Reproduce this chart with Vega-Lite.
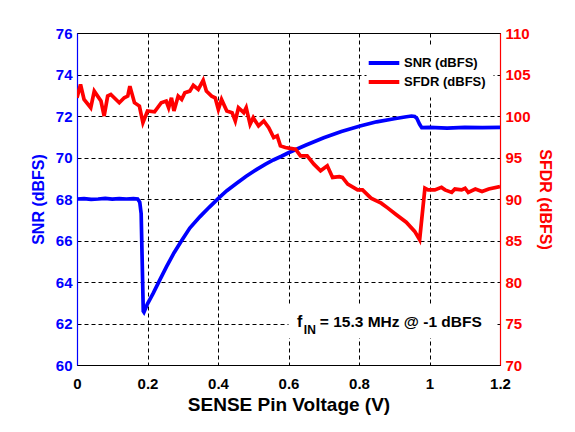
{
  "$schema": "https://vega.github.io/schema/vega-lite/v6.json",
  "width": 423,
  "height": 332,
  "autosize": "none",
  "padding": {"left": 77, "top": 33, "right": 75, "bottom": 67},
  "background": "white",
  "datasets": {
    "snr": [
      {"x": 0, "v": 68.0}, {"x": 0.02, "v": 68.02}, {"x": 0.04, "v": 67.98}, {"x": 0.06, "v": 68.0},
      {"x": 0.08, "v": 68.03}, {"x": 0.1, "v": 67.99}, {"x": 0.12, "v": 68.02}, {"x": 0.14, "v": 68.0},
      {"x": 0.16, "v": 68.02}, {"x": 0.172, "v": 68.0}, {"x": 0.178, "v": 67.85}, {"x": 0.182, "v": 67.3},
      {"x": 0.188, "v": 62.6}, {"x": 0.19, "v": 62.55}, {"x": 0.2, "v": 62.95}, {"x": 0.216, "v": 63.45},
      {"x": 0.235, "v": 64.1}, {"x": 0.254, "v": 64.74}, {"x": 0.275, "v": 65.4}, {"x": 0.297, "v": 66.0},
      {"x": 0.32, "v": 66.6}, {"x": 0.349, "v": 67.15}, {"x": 0.375, "v": 67.6}, {"x": 0.401, "v": 68.03},
      {"x": 0.425, "v": 68.4}, {"x": 0.453, "v": 68.76}, {"x": 0.48, "v": 69.1}, {"x": 0.51, "v": 69.43},
      {"x": 0.535, "v": 69.68}, {"x": 0.557, "v": 69.88}, {"x": 0.58, "v": 70.06}, {"x": 0.6, "v": 70.23},
      {"x": 0.65, "v": 70.6}, {"x": 0.7, "v": 70.95}, {"x": 0.75, "v": 71.25}, {"x": 0.803, "v": 71.52},
      {"x": 0.85, "v": 71.72}, {"x": 0.9, "v": 71.87}, {"x": 0.93, "v": 71.95}, {"x": 0.949, "v": 72.0},
      {"x": 0.958, "v": 71.98}, {"x": 0.964, "v": 71.89}, {"x": 0.972, "v": 71.6}, {"x": 0.978, "v": 71.44},
      {"x": 1.0, "v": 71.45}, {"x": 1.05, "v": 71.42}, {"x": 1.1, "v": 71.45}, {"x": 1.15, "v": 71.44},
      {"x": 1.2, "v": 71.45}
    ],
    "sfdr": [
      {"x": 0, "v": 102.2}, {"x": 0.01, "v": 103.8}, {"x": 0.02, "v": 102}, {"x": 0.039, "v": 101},
      {"x": 0.049, "v": 103}, {"x": 0.068, "v": 101.8}, {"x": 0.077, "v": 100}, {"x": 0.087, "v": 102.4},
      {"x": 0.096, "v": 102.6}, {"x": 0.12, "v": 101.6}, {"x": 0.134, "v": 102.2}, {"x": 0.144, "v": 102.4},
      {"x": 0.15, "v": 103.6}, {"x": 0.163, "v": 101.6}, {"x": 0.177, "v": 101.2}, {"x": 0.187, "v": 99.2},
      {"x": 0.2, "v": 100.6}, {"x": 0.22, "v": 100.5}, {"x": 0.239, "v": 101.6}, {"x": 0.253, "v": 101.8},
      {"x": 0.26, "v": 101}, {"x": 0.268, "v": 102.2}, {"x": 0.275, "v": 100.6}, {"x": 0.287, "v": 102.4},
      {"x": 0.297, "v": 102}, {"x": 0.306, "v": 102.8}, {"x": 0.32, "v": 103}, {"x": 0.33, "v": 103.7},
      {"x": 0.344, "v": 103.2}, {"x": 0.358, "v": 104.3}, {"x": 0.367, "v": 103}, {"x": 0.382, "v": 102.4},
      {"x": 0.392, "v": 102.2}, {"x": 0.401, "v": 100.8}, {"x": 0.41, "v": 102}, {"x": 0.425, "v": 100.6},
      {"x": 0.44, "v": 100.4}, {"x": 0.449, "v": 99.4}, {"x": 0.458, "v": 101}, {"x": 0.473, "v": 100.4},
      {"x": 0.48, "v": 101}, {"x": 0.491, "v": 99}, {"x": 0.5, "v": 99.8}, {"x": 0.515, "v": 98.8},
      {"x": 0.53, "v": 99.4}, {"x": 0.544, "v": 98.6}, {"x": 0.558, "v": 97.4}, {"x": 0.568, "v": 97.6},
      {"x": 0.577, "v": 96.4}, {"x": 0.591, "v": 96.2}, {"x": 0.605, "v": 96.1}, {"x": 0.62, "v": 96},
      {"x": 0.634, "v": 95.2}, {"x": 0.653, "v": 95.2}, {"x": 0.672, "v": 94.2}, {"x": 0.691, "v": 93.4},
      {"x": 0.71, "v": 94}, {"x": 0.725, "v": 92.6}, {"x": 0.744, "v": 92.7}, {"x": 0.753, "v": 92.6},
      {"x": 0.768, "v": 91.8}, {"x": 0.796, "v": 91.1}, {"x": 0.81, "v": 91.1}, {"x": 0.834, "v": 90.1},
      {"x": 0.863, "v": 89.5}, {"x": 0.882, "v": 88.9}, {"x": 0.906, "v": 88.1}, {"x": 0.934, "v": 87.2},
      {"x": 0.958, "v": 86.1}, {"x": 0.972, "v": 85.1}, {"x": 0.987, "v": 91.3}, {"x": 0.996, "v": 91.1},
      {"x": 1.015, "v": 91.1}, {"x": 1.034, "v": 91.4}, {"x": 1.044, "v": 91.1}, {"x": 1.063, "v": 90.8},
      {"x": 1.072, "v": 91.2}, {"x": 1.091, "v": 91.1}, {"x": 1.101, "v": 91.3}, {"x": 1.11, "v": 90.8},
      {"x": 1.13, "v": 91.2}, {"x": 1.149, "v": 90.9}, {"x": 1.168, "v": 91.2}, {"x": 1.2, "v": 91.5}
    ]
  },
  "layer": [
    {
      "data": {"values": [{}]},
      "mark": {"type": "rect", "fill": "white"},
      "encoding": {
        "x": {"datum": 0.6, "type": "quantitative", "scale": {"domain": [0, 1.2], "nice": false},
              "axis": {"values": [0, 0.2, 0.4, 0.6, 0.8, 1, 1.2], "format": "~g", "title": "SENSE Pin Voltage (V)"}},
        "x2": {"datum": 1.19},
        "y": {"datum": 61.3, "type": "quantitative", "scale": {"domain": [60, 76], "nice": false}, "axis": null},
        "y2": {"datum": 62.85}
      }
    },
    {
      "data": {"name": "snr"},
      "mark": {"type": "line", "strokeWidth": 3.7, "clip": true},
      "encoding": {
        "x": {"field": "x", "type": "quantitative", "scale": {"domain": [0, 1.2], "nice": false},
              "axis": {"values": [0, 0.2, 0.4, 0.6, 0.8, 1, 1.2], "format": "~g", "title": "SENSE Pin Voltage (V)"}},
        "y": {"field": "v", "type": "quantitative", "scale": {"domain": [60, 76], "nice": false},
              "axis": {"orient": "left", "values": [60, 62, 64, 66, 68, 70, 72, 74, 76], "title": "SNR (dBFS)",
                       "grid": true, "labelColor": "#0000ff", "titleColor": "#0000ff", "domainColor": "#0000ff",
                       "labelPadding": 5, "titlePadding": 9}},
        "color": {"datum": "SNR (dBFS)", "type": "nominal",
                  "scale": {"domain": ["SNR (dBFS)", "SFDR (dBFS)"], "range": ["#0000ff", "#ff0000"]},
                  "legend": {"title": null}}
      }
    },
    {
      "data": {"name": "sfdr"},
      "mark": {"type": "line", "strokeWidth": 3.7, "clip": true},
      "encoding": {
        "x": {"field": "x", "type": "quantitative", "scale": {"domain": [0, 1.2], "nice": false},
              "axis": {"values": [0, 0.2, 0.4, 0.6, 0.8, 1, 1.2], "format": "~g", "title": "SENSE Pin Voltage (V)"}},
        "y": {"field": "v", "type": "quantitative", "scale": {"domain": [70, 110], "nice": false},
              "axis": {"orient": "right", "values": [70, 75, 80, 85, 90, 95, 100, 105, 110], "title": "SFDR (dBFS)",
                       "grid": false, "labelColor": "#ff0000", "titleColor": "#ff0000", "domainColor": "#ff0000",
                       "labelPadding": 5, "titlePadding": 6}},
        "color": {"datum": "SFDR (dBFS)", "type": "nominal"}
      }
    },
    {
      "data": {"values": [{}]},
      "mark": {"type": "text", "text": "f", "align": "left", "baseline": "alphabetic", "font": "Liberation Sans", "fontWeight": "bold", "fontSize": 16, "color": "black"},
      "encoding": {
        "x": {"datum": 0.624, "type": "quantitative"},
        "y": {"datum": 61.85, "type": "quantitative", "scale": {"domain": [60, 76], "nice": false}, "axis": null}
      }
    },
    {
      "data": {"values": [{}]},
      "mark": {"type": "text", "text": "IN", "align": "left", "baseline": "alphabetic", "font": "Liberation Sans", "fontWeight": "bold", "fontSize": 12, "color": "black"},
      "encoding": {
        "x": {"datum": 0.6435, "type": "quantitative"},
        "y": {"datum": 61.5, "type": "quantitative", "scale": {"domain": [60, 76], "nice": false}, "axis": null}
      }
    },
    {
      "data": {"values": [{}]},
      "mark": {"type": "text", "text": "= 15.3 MHz @ -1 dBFS", "align": "left", "baseline": "alphabetic", "font": "Liberation Sans", "fontWeight": "bold", "fontSize": 15.5, "color": "black"},
      "encoding": {
        "x": {"datum": 0.689, "type": "quantitative"},
        "y": {"datum": 61.85, "type": "quantitative", "scale": {"domain": [60, 76], "nice": false}, "axis": null}
      }
    }
  ],
  "resolve": {"scale": {"y": "independent"}},
  "config": {
    "view": {"stroke": "black", "strokeWidth": 1},
    "axis": {
      "labelFont": "Liberation Sans", "labelFontWeight": "bold", "labelFontSize": 15,
      "titleFont": "Liberation Sans", "titleFontWeight": "bold", "titleFontSize": 16,
      "ticks": false, "domainWidth": 1.2, "labelColor": "black", "titleColor": "black", "domainColor": "black",
      "gridColor": "black", "gridOpacity": 1, "gridDash": [4, 3], "gridWidth": 1
    },
    "axisX": {"labelPadding": 11, "titlePadding": 4, "titleFontSize": 19, "grid": true, "labelFlush": false},
    "axisY": {"labelFlush": false},
    "legend": {
      "orient": "none", "legendX": 289.5, "legendY": 12.5, "padding": 7, "fillColor": "white",
      "symbolType": "M-1.8,0H1.8", "symbolSize": 289, "symbolStrokeWidth": 4, "labelOffset": 9.5, "rowPadding": 0,
      "labelFont": "Liberation Sans", "labelFontWeight": "bold", "labelFontSize": 13, "labelColor": "black"
    }
  }
}
